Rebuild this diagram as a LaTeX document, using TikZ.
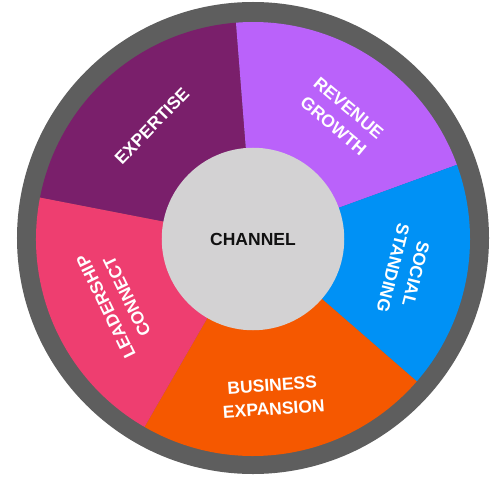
\documentclass[tikz,border=0pt]{standalone}
\usepackage{fontspec}
\setmainfont{Liberation Sans}
\definecolor{ringgray}{HTML}{5E5E5E}
\definecolor{hubgray}{HTML}{D3D2D3}
\definecolor{cexpert}{HTML}{7A1F6B}
\definecolor{crevenue}{HTML}{BA62FA}
\definecolor{csocial}{HTML}{0091F5}
\definecolor{cbusiness}{HTML}{F55800}
\definecolor{cleader}{HTML}{EE3E70}
\definecolor{hubtext}{HTML}{111111}
\begin{document}
\begin{tikzpicture}[x=1pt,y=1pt,
  label/.style={text=white,align=center,inner sep=0pt,
    font=\fontsize{17.5}{23.5}\selectfont\bfseries},
  hub/.style={circle,fill=hubgray,minimum size=182.5pt,inner sep=0pt,
    text=hubtext,font=\fontsize{17.5}{20}\selectfont\bfseries}]
\useasboundingbox (-253,-240) rectangle (247,239);
\fill[ringgray] (0,1) circle[radius=236];
\newcommand{\sector}[3]{\fill[#1] (0,0) -- (#2:217) arc[start angle=#2,end angle=#3,radius=217] -- cycle;}
\sector{cexpert}{94.5}{169}
\sector{crevenue}{20}{94.5}
\sector{csocial}{-41}{20}
\sector{cbusiness}{-120}{-41}
\sector{cleader}{169}{240}
\node[hub] (hub) at (0,0) {CHANNEL};
\node[label,rotate=46] (expertise) at (-101,113) {EXPERTISE};
\node[label,rotate=-40] (revenue) at (88,122) {REVENUE\\GROWTH};
\node[label,rotate=-104] (social) at (151.5,-32) {SOCIAL\\STANDING};
\node[label,rotate=4] (business) at (20,-158) {BUSINESS\\EXPANSION};
\node[label,rotate=116] (leader) at (-136.5,-62.5) {LEADERSHIP\\CONNECT};
\end{tikzpicture}
\end{document}
